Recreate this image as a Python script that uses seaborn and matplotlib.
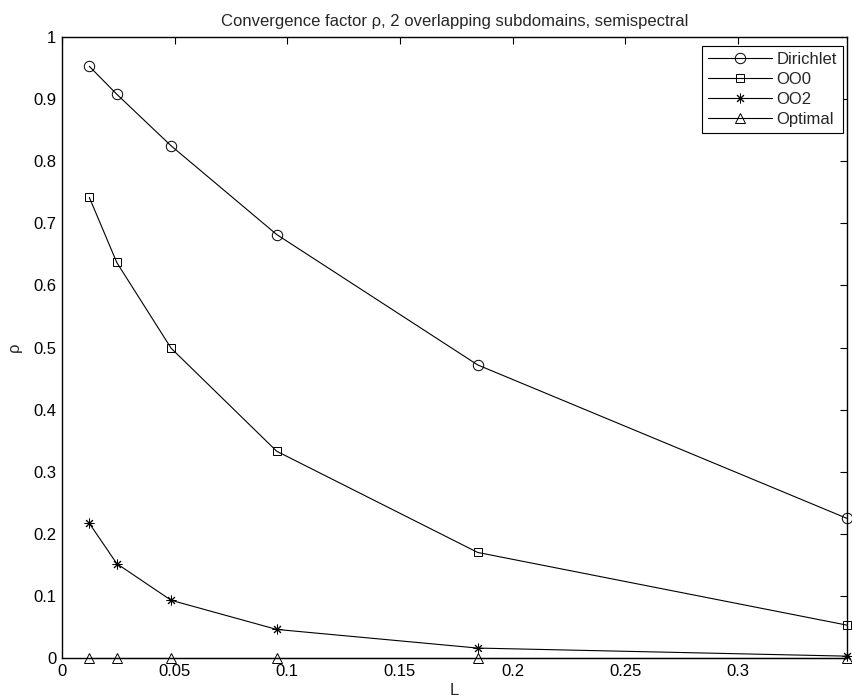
import numpy as np
import pandas as pd
import matplotlib
matplotlib.use("Agg")
import matplotlib.pyplot as plt
import seaborn as sns

# values
L_vals = [0.0121, 0.0243, 0.0484, 0.0953, 0.1845, 0.3483]
rho_dirichlet = [0.953, 0.908, 0.825, 0.682, 0.472, 0.225]
rho_oo0 = [0.742, 0.637, 0.499, 0.333, 0.170, 0.053]
rho_oo2 = [0.217, 0.152, 0.093, 0.046, 0.016, 0.003]
rho_optimal = [0.0, 0.0, 0.0, 0.0, 0.0, 0.0]

series_names = ["Dirichlet", "OO0", "OO2", "Optimal"]
series_vals = [rho_dirichlet, rho_oo0, rho_oo2, rho_optimal]
markers = ["o", "s", (8, 2, 0), "^"]
msizes = [7.5, 6.0, 7.0, 7.5]

sns.set_style("white")
plt.rcParams["font.family"] = ["Liberation Sans", "DejaVu Sans"]
fs = 12

fig = plt.figure(figsize=(8.52, 7.0), dpi=100)
ax = fig.add_axes([0.0728, 0.06, 0.921, 0.887])

for name, vals, m, ms in zip(series_names, series_vals, markers, msizes):
    df = pd.DataFrame({"L": L_vals, "rho": vals})
    sns.lineplot(data=df, x="L", y="rho", ax=ax, label=name, color="k",
                 marker=m, markersize=ms, markerfacecolor="none",
                 markeredgecolor="k", markeredgewidth=0.7, linewidth=0.8,
                 clip_on=False, zorder=3)

ax.set_xlim(0, L_vals[-1])
ax.set_ylim(0, 1)
xt = np.arange(0, 0.301, 0.05)
ax.set_xticks(xt)
ax.set_xticklabels(["0", "0.05", "0.1", "0.15", "0.2", "0.25", "0.3"])
yt = np.arange(0, 1.01, 0.1)
ax.set_yticks(yt)
ax.set_yticklabels(["0"] + [f"{v:.1f}" for v in yt[1:-1]] + ["1"])
ax.tick_params(direction="in", top=True, right=True, length=5, width=0.8,
               labelsize=fs, pad=4, colors="k")
for sp in ax.spines.values():
    sp.set_linewidth(1.0)
    sp.set_color("k")

ax.set_xlabel("L", fontsize=fs, labelpad=3)
ax.set_ylabel("ρ", fontsize=fs, labelpad=8)
ax.set_title("Convergence factor ρ, 2 overlapping subdomains, semispectral",
             fontsize=fs, pad=8)

leg = ax.legend(loc="upper right", bbox_to_anchor=(0.995, 0.9855),
                borderaxespad=0, fancybox=False, framealpha=1,
                edgecolor="k", handlelength=3.8, handletextpad=0.3,
                labelspacing=0.3, borderpad=0.35, fontsize=fs)
leg.get_frame().set_linewidth(0.8)

fig.savefig("out.png", dpi=100)
